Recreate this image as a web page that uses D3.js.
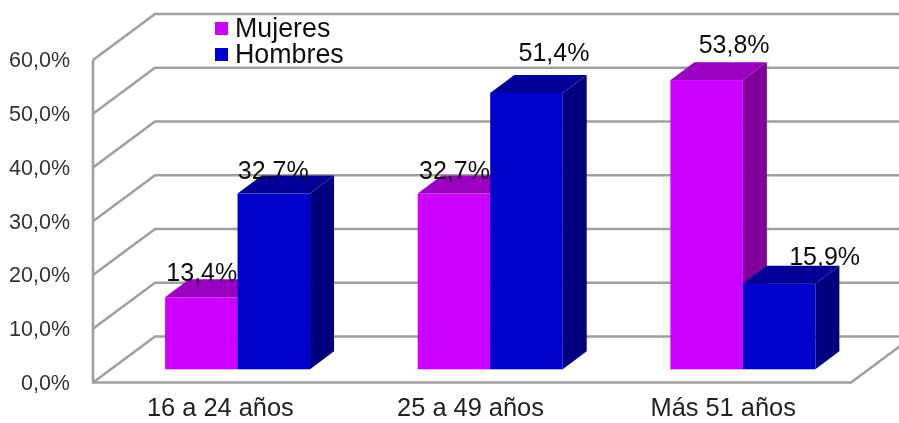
<!DOCTYPE html>
<html>
<head>
<meta charset="utf-8">
<script src="https://cdn.jsdelivr.net/npm/d3@7"></script>
<style>
    html, body { margin: 0; padding: 0; background: #fff; }
    svg { display: block; }
    text { font-family: "Liberation Sans", Arial, sans-serif; }
</style>
</head>
<body>
<svg></svg>
<script>
// data
const categories = ['16 a 24 años', '25 a 49 años', 'Más 51 años'];
const seriesNames = ['Mujeres', 'Hombres'];
const mujeres = [13.4, 32.7, 53.8];
const hombres = [32.7, 51.4, 15.9];
const yTicks = [0, 10, 20, 30, 40, 50, 60];

// layout
const width = 899, height = 423;
const plot = { left: 93, right: 851, top: 60, bottom: 382.5 };
const wallDepth = { x: 62, y: -46 };   // front plane -> back wall
const barInset = { x: 18.2, y: -13.2 };  // front plane -> bar front face
const barDepth = { x: 24, y: -18 };    // bar front face -> bar back face
const colors = {
    Mujeres: { front: '#cc00ff', top: '#9900bf', side: '#7f0099' },
    Hombres: { front: '#0000cc', top: '#000099', side: '#00007f' }
};
const gridColor = '#a0a0a0';

// labels were moved by hand in the original chart
const labelNudge = {
    Mujeres: [[0.5, -16], [0.5, -15], [27.5, -27]],
    Hombres: [[-0.5, -15], [27.5, -32], [45.5, -19]]
};
const categoryNudge = [1, -1.5, -1.5];

const svg = d3.select('svg').attr('width', width).attr('height', height);

// the reference is a slightly soft screenshot
svg.append('defs').append('filter').attr('id', 'soft')
    .attr('filterUnits', 'userSpaceOnUse')
    .attr('x', 0).attr('y', 0)
    .attr('width', width).attr('height', height)
    .append('feGaussianBlur').attr('stdDeviation', 0.45);
const root = svg.append('g').attr('filter', 'url(#soft)');
root.append('rect').attr('width', width).attr('height', height).attr('fill', '#fff');

// scales
const x = d3.scaleBand().domain(categories).range([plot.left, plot.right]);
const y = d3.scaleLinear().domain([0, 60]).range([plot.bottom, plot.top]);
const barX = d3.scaleBand().domain(seriesNames).range([0, 145]);
const groupX = c => x(c) + x.bandwidth() / 2 - 72.5 + barInset.x;

const fmt = d3.format('.1f');
const pct = v => fmt(v).replace('.', ',') + '%';

// walls and gridlines
const walls = root.append('g')
    .attr('fill', 'none')
    .attr('stroke', gridColor)
    .attr('stroke-width', 2.6);

yTicks.forEach(t => {
    walls.append('path').attr('d', d3.line()([
        [plot.left, y(t)],
        [plot.left + wallDepth.x, y(t) + wallDepth.y],
        [width + 2, y(t) + wallDepth.y]
    ]));
});
walls.append('path').attr('d', d3.line()([[plot.left, y(60)], [plot.left, y(0)], [plot.right, y(0)],
    [plot.right + wallDepth.x, y(0) + wallDepth.y]]));

// bars
const rows = [];
categories.forEach((c, i) => {
    rows.push({ c, i, name: 'Mujeres', v: mujeres[i] });
    rows.push({ c, i, name: 'Hombres', v: hombres[i] });
});

const poly = pts => pts.map(p => p.join(',')).join(' ');

rows.forEach(d => {
    const x0 = groupX(d.c) + barX(d.name);
    const x1 = x0 + barX.bandwidth();
    const yBase = y(0) + barInset.y;
    const yTop = yBase - (y(0) - y(d.v));
    const g = root.append('g').attr('class', 'bar');
    g.append('polygon').attr('fill', colors[d.name].side).attr('points', poly([
        [x1, yTop], [x1 + barDepth.x, yTop + barDepth.y],
        [x1 + barDepth.x, yBase + barDepth.y], [x1, yBase]]));
    g.append('polygon').attr('fill', colors[d.name].top).attr('points', poly([
        [x0, yTop], [x0 + barDepth.x, yTop + barDepth.y],
        [x1 + barDepth.x, yTop + barDepth.y], [x1, yTop]]));
    g.append('rect').attr('fill', colors[d.name].front)
        .attr('x', x0).attr('y', yTop)
        .attr('width', x1 - x0).attr('height', yBase - yTop);
});

// value labels
rows.forEach(d => {
    const nudge = labelNudge[d.name][d.i];
    const yTop = y(0) + barInset.y - (y(0) - y(d.v));
    root.append('text')
        .attr('x', groupX(d.c) + barX(d.name) + barX.bandwidth() / 2 + nudge[0])
        .attr('y', yTop + nudge[1])
        .attr('text-anchor', 'middle')
        .attr('font-size', 25)
        .attr('fill', '#111')
        .text(pct(d.v));
});

// axes
const yAxis = d3.axisLeft(y).tickValues(yTicks).tickSize(0).tickPadding(23).tickFormat(pct);
const yG = root.append('g').attr('transform', `translate(${plot.left},0)`).call(yAxis);
yG.select('.domain').remove();
yG.selectAll('text').attr('font-size', 21.5).attr('fill', '#333');

const xAxis = d3.axisBottom(x).tickSize(0).tickPadding(0);
const xG = root.append('g').attr('transform', `translate(0,${plot.bottom + 15})`).call(xAxis);
xG.select('.domain').remove();
xG.selectAll('text')
    .attr('font-size', 25.4)
    .attr('fill', '#222')
    .attr('dx', (d, i) => categoryNudge[i]);

// legend
const legend = root.append('g').attr('transform', 'translate(215,22)');
seriesNames.forEach((name, i) => {
    legend.append('rect').attr('x', 0).attr('y', i * 26)
        .attr('width', 13).attr('height', 13).attr('fill', colors[name].front);
    legend.append('text').attr('x', 20).attr('y', i * 26 + 15)
        .attr('font-size', 26.8).attr('fill', '#111').text(name);
});
</script>
</body>
</html>
